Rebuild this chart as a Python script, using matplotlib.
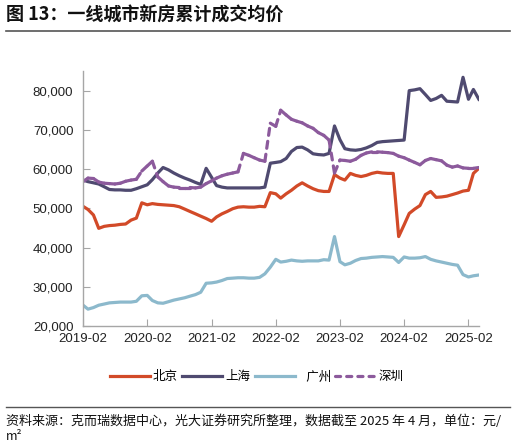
import numpy as np
import pandas as pd
import matplotlib
matplotlib.use("Agg")
import matplotlib.pyplot as plt
import matplotlib.dates as mdates
from matplotlib.collections import LineCollection
from matplotlib.lines import Line2D
from matplotlib.ticker import FuncFormatter

plt.rcParams['font.family'] = ['Liberation Sans', 'Noto Sans CJK SC', 'DejaVu Sans']

# 月度数据 2019-02 .. 2025-04（元/平方米）
months = pd.date_range('2019-02-01', periods=75, freq='MS')

beijing = [
    50500, 49700, 48300, 44900, 45400, 45600, 45700, 45900, 46000, 47000,
    47500, 51400, 50900, 51200, 51000, 50900, 50800, 50700, 50400, 49800,
    49200, 48600, 48000, 47400, 46700, 47800, 48600, 49200, 49900, 50300,
    50400, 50300, 50300, 50500, 50400, 54000, 53700, 52600, 53700, 54600,
    55700, 56500, 55700, 55000, 54500, 54300, 54300, 58600, 57700, 57200,
    58900, 58400, 58100, 58400, 58900, 59200, 59000, 58900, 58900, 42800,
    45800, 48700, 49800, 50700, 53500, 54300, 52800, 52900, 53100, 53500,
    53900, 54400, 54600, 58900, 60200]

shanghai = [
    57200, 56800, 56500, 56200, 55500, 54800, 54700, 54700, 54600, 54600,
    55000, 55500, 56000, 57300, 59000, 60400, 59800, 59000, 58300, 57700,
    57200, 56600, 56100, 60200, 57900, 55800, 55400, 55200, 55200, 55200,
    55200, 55200, 55200, 55200, 55400, 61500, 61700, 61900, 62700, 64500,
    65500, 65600, 64900, 63900, 63700, 63600, 64000, 71000, 67500, 65200,
    64900, 64800, 65000, 65400, 66000, 66800, 67000, 67100, 67200, 67300,
    67400, 80000, 80200, 80500, 79000, 77500, 78000, 78800, 77300, 77200,
    77100, 83400, 77800, 80300, 77800]

guangzhou = [
    25300, 24300, 24700, 25300, 25600, 25900, 26000, 26100, 26100, 26100,
    26300, 27700, 27800, 26500, 25900, 25800, 26200, 26600, 26900, 27200,
    27600, 28000, 28600, 30900, 31000, 31200, 31600, 32100, 32200, 32300,
    32300, 32200, 32200, 32400, 33300, 35000, 37000, 36300, 36500, 36800,
    36600, 36500, 36600, 36600, 36600, 36900, 36800, 42800, 36400, 35600,
    36000, 36700, 37200, 37300, 37500, 37600, 37700, 37600, 37500, 36200,
    37600, 37300, 37300, 37400, 37700, 37000, 36600, 36300, 36000, 35700,
    35500, 33100, 32500, 32800, 33000]

shenzhen = [
    56800, 57700, 57600, 56700, 56400, 56300, 56200, 56400, 56900, 57200,
    57400, 59500, 60800, 62000, 58000, 56800, 55700, 55400, 55300, 55300,
    55300, 55200, 55400, 56300, 57000, 57700, 58300, 58700, 59000, 59300,
    64000, 63500, 62900, 62300, 62000, 71700, 70900, 75000, 73800, 72700,
    72200, 71800, 71000, 70400, 69300, 68600, 67400, 59000, 62300, 62200,
    62000, 62500, 63500, 64100, 64400, 64400, 64300, 64200, 64000, 63300,
    62900, 62300, 61700, 61100, 62200, 62700, 62400, 62100, 61000, 60500,
    60800, 60300, 60200, 60200, 60400]

tick_labels = ['2019-02', '2020-02', '2021-02', '2022-02', '2023-02', '2024-02', '2025-02']

c_bj = '#d24a28'
c_sh = '#4f4a70'
c_gz = '#8cb9cc'
c_sz = '#8c5a9c'
lw = 2.3

fig = plt.figure(figsize=(5.16, 4.45), dpi=100)
ax = fig.add_axes([0.161, 0.2674, 0.767, 0.573])

ax.plot(months, beijing, color=c_bj, lw=lw, solid_joinstyle='round')
ax.plot(months, shanghai, color=c_sh, lw=lw, solid_joinstyle='round')
ax.plot(months, guangzhou, color=c_gz, lw=lw, solid_joinstyle='round')

# 深圳：虚线按段重新开始，短段看起来是实线
xs = mdates.date2num(months.to_pydatetime())
pts = np.column_stack([xs, shenzhen])
segs = np.stack([pts[:-1], pts[1:]], axis=1)
sz_dash = (0, (2.2, 1.9))
lc = LineCollection(segs, colors=c_sz, linewidths=lw, linestyles=[sz_dash], capstyle='round')
ax.add_collection(lc)

ax.set_xlim(months[0], months[-1])
ax.set_ylim(20000, 85000)
ax.set_yticks(np.arange(20000, 80001, 10000))
ax.yaxis.set_major_formatter(FuncFormatter(lambda v, p: f'{int(v):,}'))
ax.set_xticks(pd.to_datetime(tick_labels))
ax.set_xticklabels(tick_labels)

for s in ['top', 'right']:
    ax.spines[s].set_visible(False)
for s in ['left', 'bottom']:
    ax.spines[s].set_color('#a6a6a6')
    ax.spines[s].set_linewidth(1.0)
ax.tick_params(axis='both', direction='in', length=5, color='#a6a6a6',
               labelsize=9.5, labelcolor='#222222')
ax.tick_params(axis='y', pad=7)
ax.tick_params(axis='x', pad=5)

# 图例
handles = [
    Line2D([], [], color=c_bj, lw=lw),
    Line2D([], [], color=c_sh, lw=lw),
    Line2D([], [], color=c_gz, lw=lw),
    Line2D([], [], color=c_sz, lw=lw, linestyle=(0, (1.6, 1.9)), dash_capstyle='round'),
]
labels = ['北京', '上海', '   广州', '深圳']
fig.legend(handles, labels, loc='center', bbox_to_anchor=(0.497, 0.153), ncol=4,
           frameon=False, handlelength=3.2, handletextpad=0.25, columnspacing=0.35,
           prop={'family': ['Noto Sans CJK SC'], 'size': 9})

# 标题与来源
fig.text(0.012, 0.966, '图 13：一线城市新房累计成交均价', fontsize=13, fontweight='bold',
         family=['Noto Sans CJK SC'], va='center', ha='left', color='#111111')
fig.add_artist(Line2D([0.012, 0.988], [0.930, 0.930], transform=fig.transFigure,
                      color='#555555', lw=1.2))
fig.add_artist(Line2D([0.012, 0.988], [0.0854, 0.0854], transform=fig.transFigure,
                      color='#555555', lw=1.0))
fig.text(0.012, 0.054, '资料来源：克而瑞数据中心，光大证券研究所整理，数据截至 2025 年 4 月，单位：元/',
         fontsize=9.4, family=['Noto Sans CJK SC', 'DejaVu Sans'], va='center', ha='left', color='#111111')
fig.text(0.012, 0.018, 'm²', fontsize=9, family=['Noto Sans CJK SC', 'DejaVu Sans'],
         va='center', ha='left', color='#111111')

fig.savefig('out.png', dpi=100)
